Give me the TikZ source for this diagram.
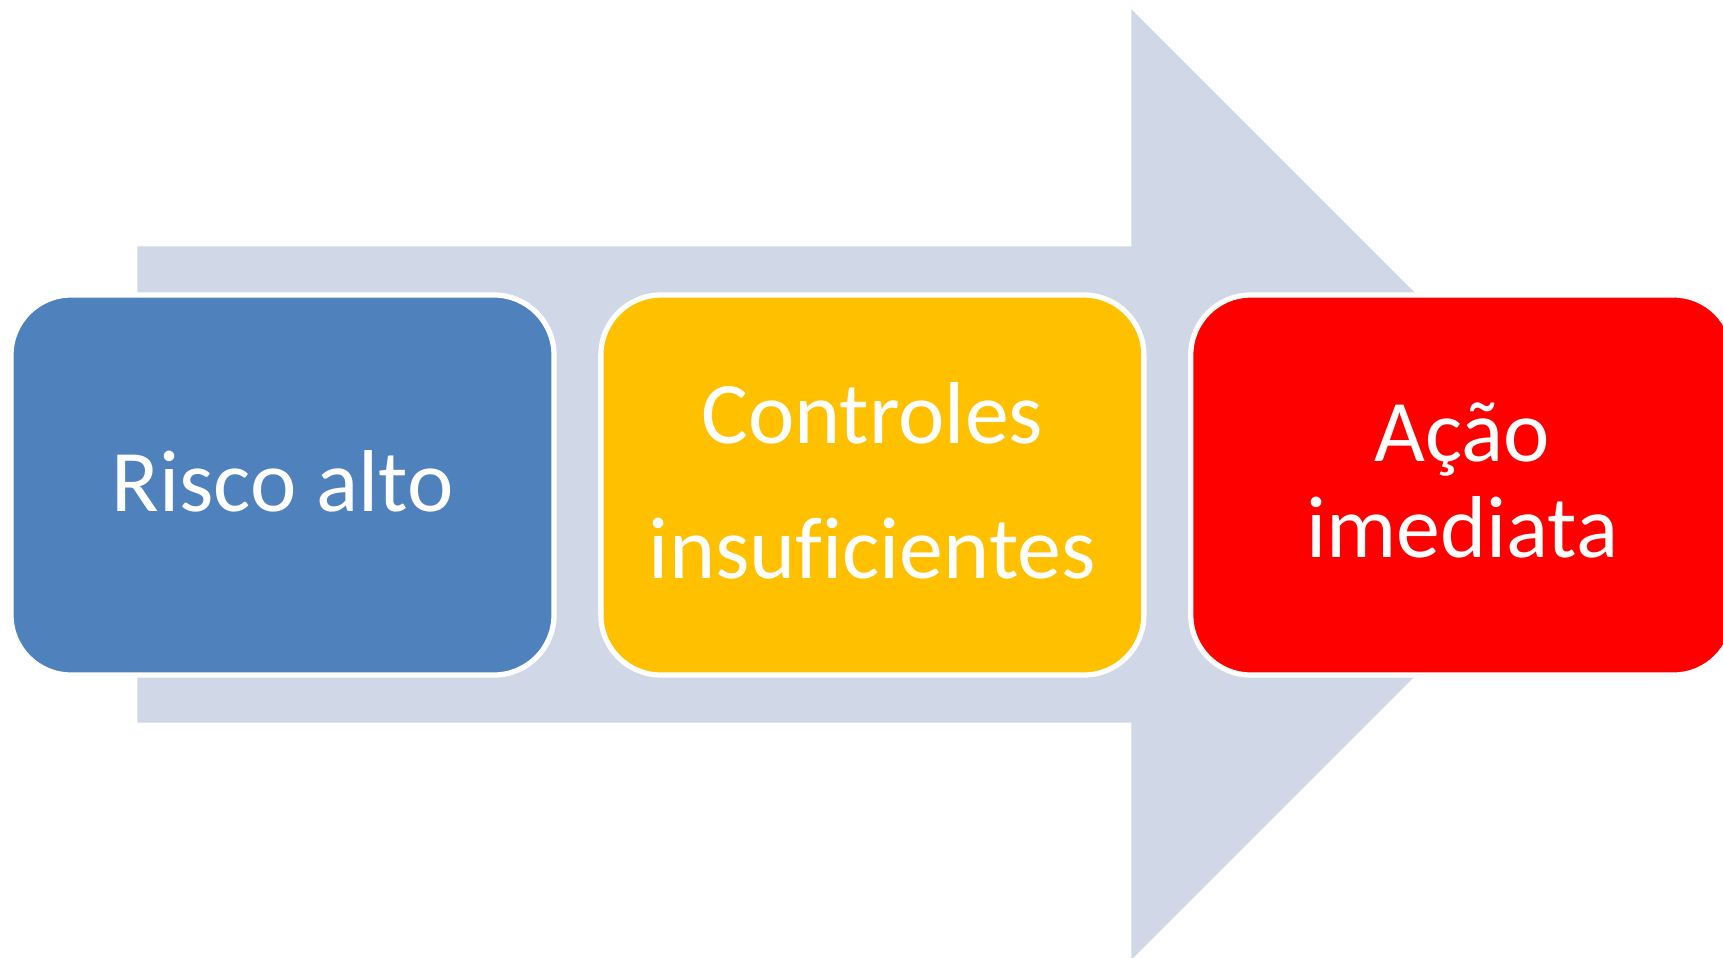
\documentclass[tikz,border=0pt]{standalone}
\usepackage{fontspec}
\setmainfont{Carlito}[Ligatures=CommonOff]
\usepackage{tikz}
\usetikzlibrary{positioning}
\newcommand{\lb}{5.43}
\newcommand{\hb}{3.80}
\definecolor{bleurisque}{RGB}{79,129,189}
\definecolor{jaunecontrole}{RGB}{255,192,0}
\definecolor{rougeaction}{RGB}{255,0,0}
\definecolor{grisfleche}{RGB}{208,216,232}
\colorlet{colfleche}{grisfleche}
\tikzstyle{fleche}=[fill,colfleche]
\tikzstyle{boite}=[draw=white, line width=1.5pt, rounded corners=0.6cm, minimum width=\lb cm, minimum height=\hb cm, inner sep=0pt, text depth=0.09cm, align=center, text=white, font=\fontsize{25}{27.3}\selectfont]

\begin{document}
\begin{tikzpicture}

\useasboundingbox (0,0) rectangle (17.23,9.57);
\clip (0,0) rectangle (17.23,9.57);

\draw[fleche] (1.38,2.35) -- (11.32,2.35) -- (11.32,-0.01) -- (16.055,4.725) -- (11.32,9.46) -- (11.32,7.10) -- (1.38,7.10) -- cycle;

\node[boite, fill=bleurisque] (risco) at (2.825,4.72) {Risco alto};
\node[boite, fill=jaunecontrole, right=0.416cm of risco] (controles) {Controles\\[11pt]insuficientes};
\node[boite, fill=rougeaction, right=0.416cm of controles] (acao) {Ação\\imediata};

\end{tikzpicture}
\end{document}
